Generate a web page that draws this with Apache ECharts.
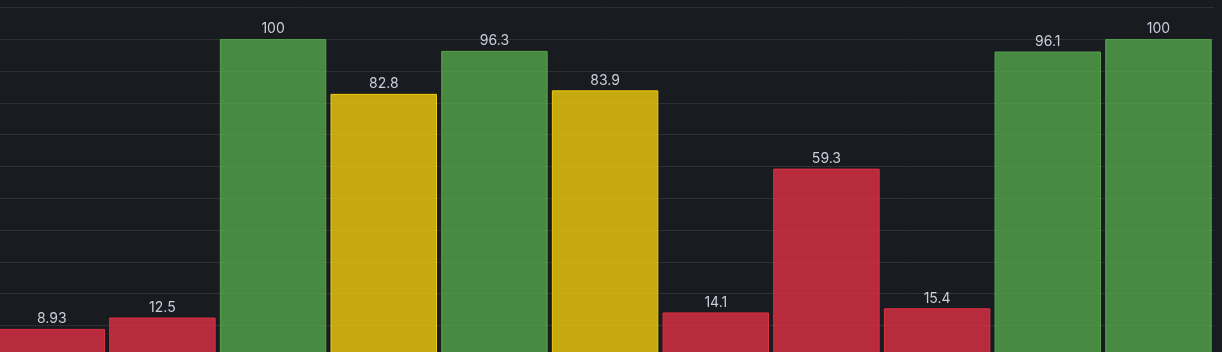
<!DOCTYPE html>
<html>
<head>
<meta charset="utf-8">
<style>
  html, body { margin: 0; padding: 0; background: #181b1f; overflow: hidden; width: 1222px; height: 352px; }
  #main { position: absolute; left: -6px; top: 0; width: 1240px; height: 370px; }
</style>
<script src="https://cdn.jsdelivr.net/npm/echarts@6/dist/echarts.min.js"></script>
</head>
<body>
<div id="main"></div>
<script>
const categories = ['A', 'B', 'C', 'D', 'E', 'F', 'G', 'H', 'I', 'J', 'K']
const values = [8.93, 12.5, 100, 82.8, 96.3, 83.9, 14.1, 59.3, 15.4, 96.1, 100]

// threshold colours
function colorFor(v) {
    if (v >= 90) return '#56A64B'
    if (v >= 80) return '#F2CC0C'
    return '#E02F44'
}
function fade(hex) {
    return hex + 'cc'
}

const chartDom = document.getElementById('main')
let myChart = echarts.init(chartDom)
let option
option = {
    backgroundColor: '#181b1f',
    animation: false,
    grid: {
        left: 2.4,
        right: 20.2,
        top: 7.3,
        height: 350
    },
    xAxis: {
        type: 'category',
        data: categories,
        axisLine: { show: false },
        axisTick: { show: false },
        axisLabel: { show: false }
    },
    yAxis: {
        type: 'value',
        min: 0,
        max: 110,
        interval: 10,
        axisLabel: { show: false },
        axisLine: { show: false },
        axisTick: { show: false },
        splitLine: { lineStyle: { color: 'rgba(204,204,220,0.12)', width: 1 } }
    },
    series: [{
        type: 'bar',
        barCategoryGap: '3.8%',
        data: values.map(v => ({
            value: v,
            itemStyle: {
                color: fade(colorFor(v)),
                borderColor: colorFor(v),
                borderWidth: 1
            }
        })),
        label: {
            show: true,
            position: 'top',
            distance: 3,
            color: '#ccccdc',
            fontFamily: 'Inter',
            fontSize: 14
        }
    }]
}

option && myChart.setOption(option)
</script>
</body>
</html>
